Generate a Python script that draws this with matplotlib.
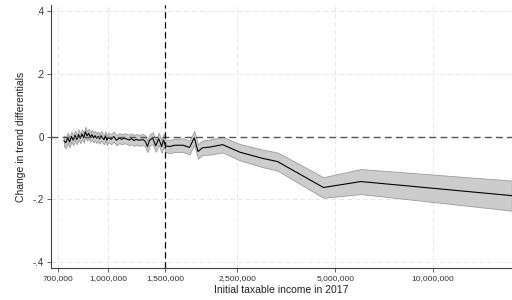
import numpy as np
import matplotlib
matplotlib.use("Agg")
import matplotlib.pyplot as plt

plt.rcParams['font.family'] = ['Liberation Sans', 'DejaVu Sans']

# income thresholds (2017) and estimated change in trend differentials
income = [730e3, 740e3, 750e3, 760e3, 770e3, 780e3, 790e3, 800e3, 810e3, 820e3,
          830e3, 840e3, 850e3, 860e3, 870e3, 880e3, 890e3, 900e3, 910e3, 920e3,
          930e3, 940e3, 950e3, 960e3, 970e3, 980e3, 990e3, 1.00e6, 1.02e6, 1.04e6,
          1.06e6, 1.08e6, 1.10e6, 1.12e6, 1.14e6, 1.16e6, 1.18e6, 1.20e6, 1.22e6, 1.24e6,
          1.26e6, 1.28e6, 1.30e6, 1.32e6, 1.34e6, 1.37e6, 1.40e6, 1.43e6, 1.46e6, 1.48e6,
          1.50e6, 1.55e6, 1.60e6, 1.70e6, 1.78e6, 1.84e6, 1.89e6, 1.95e6, 2.05e6, 2.25e6,
          2.54e6, 2.99e6, 3.32e6, 4.6e6, 6.0e6, 17.5e6]
coef = [-0.014, -0.020, -0.004, -0.018, 0.000, -0.012, 0.004, -0.010, 0.006, -0.006,
        0.008, -0.004, 0.015, 0.002, 0.010, -0.002, 0.006, -0.004, 0.003, -0.006,
        0.001, -0.008, 0.003, -0.005, -0.010, 0.002, -0.012, -0.003, -0.009, 0.000,
        -0.012, -0.005, -0.009, -0.005, -0.008, -0.011, -0.007, -0.013, -0.009, -0.012,
        -0.011, -0.010, -0.015, -0.032, -0.012, -0.005, -0.030, -0.007, -0.032, -0.011,
        -0.030, -0.032, -0.028, -0.028, -0.035, -0.004, -0.048, -0.036, -0.034, -0.026,
        -0.050, -0.070, -0.080, -0.163, -0.144, -0.189]
# half width of the confidence band
ci = [0.017, 0.017, 0.016, 0.017, 0.016, 0.016, 0.016, 0.015, 0.016, 0.015,
      0.015, 0.015, 0.016, 0.015, 0.015, 0.015, 0.015, 0.015, 0.015, 0.015,
      0.015, 0.015, 0.015, 0.015, 0.015, 0.015, 0.015, 0.015, 0.016, 0.016,
      0.016, 0.016, 0.016, 0.016, 0.016, 0.017, 0.017, 0.017, 0.017, 0.017,
      0.018, 0.018, 0.018, 0.018, 0.018, 0.019, 0.019, 0.019, 0.020, 0.020,
      0.020, 0.021, 0.021, 0.022, 0.022, 0.022, 0.023, 0.023, 0.024, 0.025,
      0.026, 0.028, 0.029, 0.033, 0.040, 0.048]

xticks = [700e3, 1e6, 1.5e6, 2.5e6, 5e6, 10e6]
yticks = [-0.4, -0.2, 0, 0.2, 0.4]
ylabels = ['-.4', '-.2', '0', '.2', '.4']
cutoff = 1.5e6

income = np.array(income)
coef = np.array(coef)
ci = np.array(ci)

fig = plt.figure(figsize=(5.12, 3.0), dpi=100)
ax = fig.add_axes([0.0996, 0.107, 0.9, 0.876])

ax.set_xscale('log')
ax.set_xlim(666e3, 17.5e6)
ax.set_ylim(-0.42, 0.42)

# light dashed grid
for t in xticks:
    ax.axvline(t, color='#e6e6e6', lw=0.7, ls=(0, (5, 3)), zorder=0)
for t in yticks:
    if t != 0:
        ax.axhline(t, color='#e6e6e6', lw=0.7, ls=(0, (5, 3)), zorder=0)

ax.fill_between(income, coef - ci, coef + ci, facecolor='#cccccc',
                edgecolor='#9a9a9a', lw=0.6, zorder=2)
ax.plot(income, coef, color='black', lw=0.8, zorder=3)

ax.axhline(0, color='#555555', lw=1.0, ls=(0, (5, 3)), zorder=4)
ax.axvline(cutoff, color='black', lw=0.9, ls=(0, (5, 3)), zorder=4)

ax.set_xticks(xticks)
ax.set_xticklabels([f'{int(t):,}' for t in xticks], fontsize=6, color='#333333')
ax.xaxis.set_minor_locator(matplotlib.ticker.NullLocator())
ax.set_yticks(yticks)
ax.set_yticklabels(ylabels, fontsize=7, color='#333333')

for s in ['top', 'right']:
    ax.spines[s].set_visible(False)
for s in ['left', 'bottom']:
    ax.spines[s].set_color('#444444')
    ax.spines[s].set_linewidth(0.8)
ax.tick_params(axis='both', direction='out', length=3, width=0.6, color='#444444', pad=2)

ax.set_xlabel('Initial taxable income in 2017', fontsize=7.5, color='#222222', labelpad=2)
ax.set_ylabel('Change in trend differentials', fontsize=7.5, color='#222222', labelpad=5)

fig.savefig('out.png', dpi=100, facecolor='white')
